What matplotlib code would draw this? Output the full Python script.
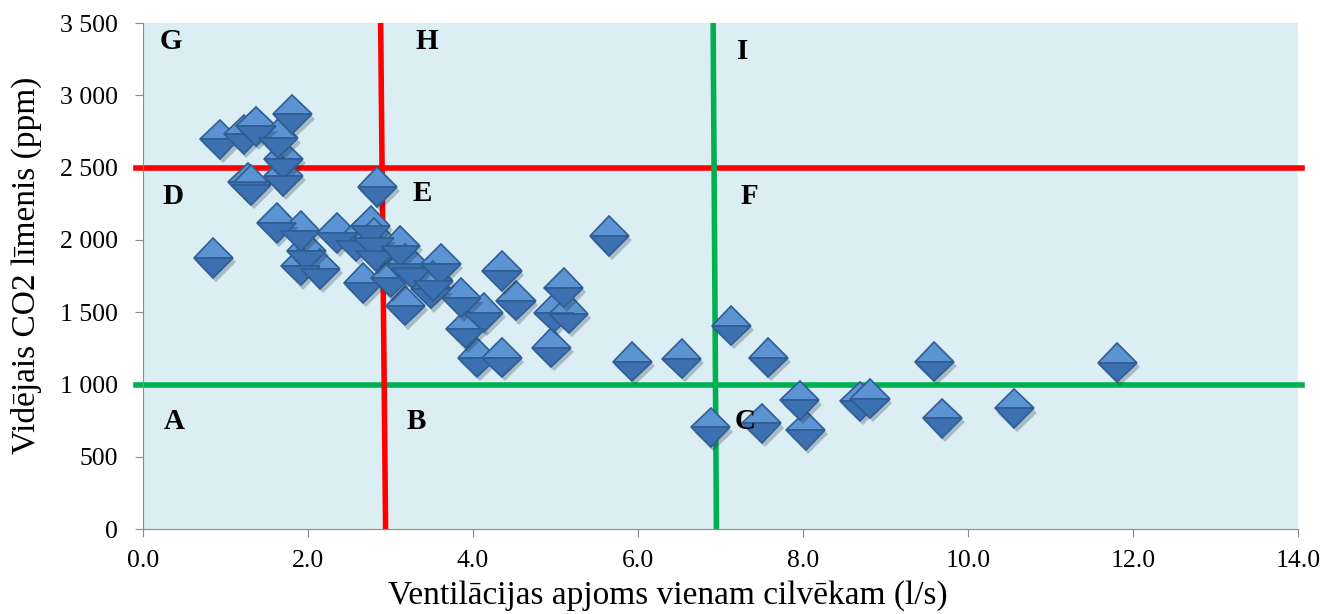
import matplotlib
matplotlib.use('Agg')
import matplotlib.pyplot as plt
import matplotlib.patheffects as pe
from matplotlib.ticker import FuncFormatter, MultipleLocator

plt.rcParams['font.family'] = ['Liberation Serif', 'DejaVu Serif']

# ventilation per person (l/s) vs average CO2 (ppm)
vent = [0.85, 0.93, 1.22, 1.37, 1.64, 1.81, 1.70, 1.70, 1.27, 1.31,
        2.84, 1.62, 1.91, 1.98, 1.91, 2.15, 2.35, 2.58, 2.76, 2.80,
        2.82, 2.67, 3.00, 3.12, 3.18, 3.26, 3.18, 3.61, 3.49, 3.52,
        3.86, 4.13, 3.91, 4.05, 4.35, 4.35, 4.52, 5.10, 4.98, 5.16,
        4.95, 5.65, 5.93, 6.53, 6.88, 7.13, 7.58, 7.50, 7.96, 8.03,
        8.69, 8.81, 9.59, 9.69, 10.56, 11.81]
co2 = [1876, 2696, 2731, 2786, 2703, 2869, 2559, 2441, 2400, 2380,
       2366, 2117, 2062, 1924, 1821, 1800, 2048, 1993, 2097, 2014,
       1924, 1703, 1738, 1959, 1834, 1807, 1545, 1834, 1662, 1717,
       1600, 1497, 1386, 1186, 1186, 1786, 1579, 1669, 1497, 1490,
       1255, 2028, 1159, 1179, 703, 1407, 1186, 731, 890, 683,
       883, 903, 1159, 766, 834, 1152]

# zone boundaries
red_v = ([2.88, 2.94], [3500, 0])
green_v = ([6.91, 6.95], [3500, 0])
red_h = 2500
green_h = 1000

zone_letters = ['G', 'H', 'I', 'D', 'E', 'F', 'A', 'B', 'C']
zone_x = [0.34, 3.44, 7.27, 0.36, 3.39, 7.35, 0.38, 3.31, 7.30]
zone_y = [3375, 3375, 3306, 2300, 2320, 2300, 745, 745, 745]

fig = plt.figure(figsize=(13.22, 6.14), dpi=100)
ax = fig.add_axes([0.1082, 0.1384, 0.8737, 0.8238])
ax.set_facecolor('#DBEEF4')

ax.set_xlim(0, 14)
ax.set_ylim(0, 3500)

# boundary lines
ax.plot([-0.08, 14.05], [red_h, red_h], color='#FF0000', lw=4, clip_on=False, zorder=2)
ax.plot([-0.08, 14.05], [green_h, green_h], color='#00B050', lw=4, clip_on=False, zorder=2)
ax.plot(*red_v, color='#FF0000', lw=4, zorder=2)
ax.plot(*green_v, color='#00B050', lw=4, zorder=2)

ax.plot(vent, co2, ls='none', marker='D', ms=20,
        fillstyle='top', markerfacecolor='#5B93D3',
        markerfacecoloralt='#3C70B0', markeredgecolor='#2F5D94',
        markeredgewidth=1.2, zorder=3,
        path_effects=[pe.SimplePatchShadow(offset=(2, -3), alpha=0.25),
                      pe.Normal()])

for letter, lx, ly in zip(zone_letters, zone_x, zone_y):
    ax.text(lx, ly, letter, fontsize=21, fontweight='bold',
            ha='center', va='center', zorder=4)

for side in ['top', 'right']:
    ax.spines[side].set_visible(False)
for side in ['left', 'bottom']:
    ax.spines[side].set_color('#8C8C8C')

ax.xaxis.set_major_locator(MultipleLocator(2))
ax.yaxis.set_major_locator(MultipleLocator(500))
ax.xaxis.set_major_formatter(FuncFormatter(lambda v, _p: f'{v:.1f}'))
ax.yaxis.set_major_formatter(
    FuncFormatter(lambda v, _p: f'{int(v):,}'.replace(',', ' ')))
ax.tick_params(axis='both', direction='out', length=6, color='#8C8C8C',
               labelsize=18.5)
ax.tick_params(axis='y', pad=12)
ax.tick_params(axis='x', pad=9)

ax.set_xlabel('Ventilācijas apjoms vienam cilvēkam (l/s)', fontsize=24,
              labelpad=6, x=0.454)
ax.set_ylabel('Vidējais CO2 līmenis (ppm)', fontsize=24, labelpad=13, y=0.522)

fig.savefig('out.png', dpi=100)
